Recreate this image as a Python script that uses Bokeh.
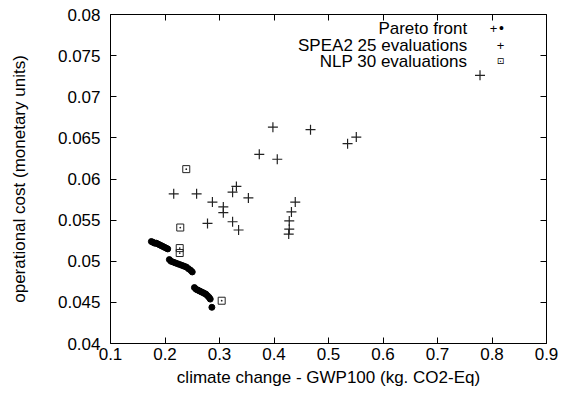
from bokeh.plotting import figure
from bokeh.models import Range1d, LinearAxis, Label, FixedTicker
from bokeh.embed import file_html
from bokeh.resources import INLINE

# Pareto front (dense dots)
pareto_x = [0.175, 0.178, 0.181, 0.184, 0.187, 0.190, 0.193, 0.196, 0.199, 0.202, 0.205,
            0.208, 0.211, 0.215, 0.219, 0.223, 0.227, 0.231, 0.235, 0.239, 0.243, 0.247, 0.250,
            0.254, 0.257, 0.260, 0.263, 0.266, 0.269, 0.272, 0.275, 0.278, 0.281, 0.283,
            0.286]
pareto_y = [0.0524, 0.0523, 0.0522, 0.0522, 0.0521, 0.0520, 0.0519, 0.0518, 0.0517, 0.0516, 0.0515,
            0.0502, 0.0500, 0.0499, 0.0498, 0.0497, 0.0496, 0.0495, 0.0494, 0.0493, 0.0491, 0.0489, 0.0487,
            0.0468, 0.0466, 0.0465, 0.0464, 0.0463, 0.0462, 0.0461, 0.0460, 0.0458, 0.0456, 0.0454,
            0.0444]

# SPEA2 25 evaluations
spea_x = [0.216, 0.258, 0.287, 0.278, 0.307, 0.307, 0.324, 0.331, 0.324, 0.335, 0.353,
          0.373, 0.406, 0.398, 0.467, 0.535, 0.551, 0.778,
          0.439, 0.432, 0.428, 0.428, 0.427]
spea_y = [0.0582, 0.0582, 0.0572, 0.0546, 0.0566, 0.0559, 0.0584, 0.0591, 0.0548, 0.0538, 0.0577,
          0.0630, 0.0624, 0.0663, 0.0660, 0.0643, 0.0651, 0.0726,
          0.0572, 0.0560, 0.0549, 0.0539, 0.0533]

# NLP 30 evaluations
nlp_x = [0.239, 0.228, 0.227, 0.227, 0.304]
nlp_y = [0.0612, 0.0541, 0.0516, 0.0510, 0.0452]

x_ticks = [0.1, 0.2, 0.3, 0.4, 0.5, 0.6, 0.7, 0.8, 0.9]
y_ticks = [0.04, 0.045, 0.05, 0.055, 0.06, 0.065, 0.07, 0.075, 0.08]
legend_labels = ["Pareto front", "SPEA2 25 evaluations", "NLP 30 evaluations"]

FONT = "Liberation Sans"
FS = "17px"

p = figure(width=563, height=395, output_backend="svg", toolbar_location=None,
           x_range=Range1d(0.1, 0.9), y_range=Range1d(0.04, 0.08),
           min_border_left=110, min_border_right=17, min_border_top=14, min_border_bottom=52,
           x_axis_label="climate change - GWP100 (kg. CO2-Eq)",
           y_axis_label="operational cost (monetary units)")
p.grid.visible = False
p.outline_line_color = "black"
p.outline_line_width = 1
p.background_fill_color = "white"
p.border_fill_color = "white"

for ax in (p.xaxis[0], p.yaxis[0]):
    ax.axis_line_color = None
    ax.major_tick_in = 6
    ax.major_tick_out = 0
    ax.minor_tick_in = 0
    ax.minor_tick_out = 0
    ax.major_label_text_font = FONT
    ax.major_label_text_font_size = FS
    ax.major_label_text_color = "black"
    ax.axis_label_text_font = FONT
    ax.axis_label_text_font_size = FS
    ax.axis_label_text_font_style = "normal"
    ax.axis_label_text_color = "black"
p.xaxis[0].ticker = FixedTicker(ticks=x_ticks)
p.yaxis[0].ticker = FixedTicker(ticks=y_ticks)
p.xaxis[0].major_label_standoff = 4
p.yaxis[0].major_label_standoff = 10
p.xaxis[0].axis_label_standoff = 5
p.yaxis[0].axis_label_standoff = 26

# mirror ticks on top and right (no labels)
top = LinearAxis(ticker=FixedTicker(ticks=x_ticks),
                 major_label_overrides={t: "" for t in x_ticks},
                 major_tick_in=6, major_tick_out=0, minor_tick_in=0, minor_tick_out=0,
                 axis_line_color=None, major_label_standoff=0)
right = LinearAxis(ticker=FixedTicker(ticks=y_ticks),
                   major_label_overrides={t: "" for t in y_ticks},
                   major_tick_in=6, major_tick_out=0, minor_tick_in=0, minor_tick_out=0,
                   axis_line_color=None, major_label_standoff=0)
p.add_layout(top, "above")
p.add_layout(right, "right")

p.scatter(pareto_x, pareto_y, marker="circle", size=6, fill_color="black", line_color="black")
p.scatter(spea_x, spea_y, marker="cross", size=10, line_color="#222222", line_width=1.2)
p.scatter(nlp_x, nlp_y, marker="square_dot", size=7, fill_color=None, line_color="#222222", line_width=1)

# legend (gnuplot style: text right-aligned, sample to its right)
ly = [0.0783, 0.0762, 0.0743]
for lab, yy in zip(legend_labels, ly):
    p.add_layout(Label(x=0.7545, y=yy, text=lab, text_align="right", text_baseline="middle",
                       text_font=FONT, text_font_size=FS, text_color="black"))
p.add_layout(Label(x=0.803, y=0.0783, text="+", text_align="center", text_baseline="middle",
                   text_font=FONT, text_font_size="13px", text_color="black"))
p.add_layout(Label(x=0.8175, y=0.0783, text="\u2022", text_align="center", text_baseline="middle",
                   text_font=FONT, text_font_size="14px", text_color="black"))
p.add_layout(Label(x=0.8156, y=0.0762, text="+", text_align="center", text_baseline="middle",
                   text_font=FONT, text_font_size="13px", text_color="black"))
p.add_layout(Label(x=0.8156, y=0.0743, text="\u22a1", text_align="center", text_baseline="middle",
                   text_font="DejaVu Sans", text_font_size="9px", text_color="black"))

open("out.html", "w").write(file_html(p, INLINE))
